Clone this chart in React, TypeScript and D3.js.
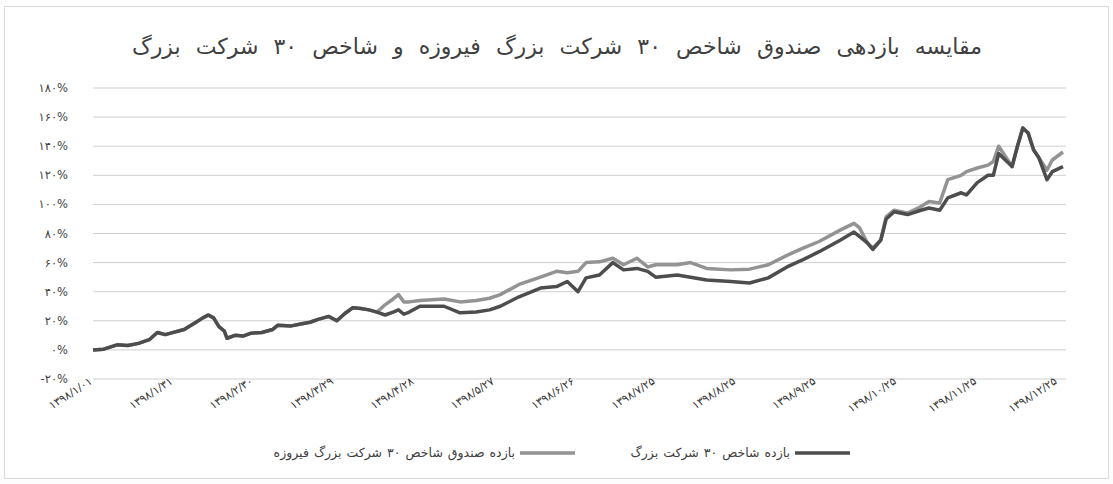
import React, { useLayoutEffect, useRef, useState } from 'react';
import * as d3 from 'd3';

const titleText = 'مقایسه بازدهی صندوق شاخص ۳۰ شرکت بزرگ فیروزه و شاخص ۳۰ شرکت بزرگ';
const fundName = 'بازده صندوق شاخص ۳۰ شرکت بزرگ فیروزه';
const indexName = 'بازده شاخص ۳۰ شرکت بزرگ';

// day offset from 1398/01/01
const dayOffsets = [0, 4, 9, 13, 17, 21, 24, 27, 29, 34, 38, 41, 43, 45, 47, 49, 50, 53, 56, 59, 63, 67, 69, 74, 78, 81, 84, 88, 91, 94, 97, 100, 103, 106, 109, 112, 114, 116, 118, 122, 131, 137, 143, 148, 152, 159, 167, 173, 177, 181, 184, 189, 194, 198, 203, 207, 210, 218, 223, 229, 238, 245, 252, 259, 265, 271, 279, 284, 286, 289, 291, 294, 296, 299, 304, 309, 312, 316, 319, 324, 326, 330, 334, 336, 338, 343, 345, 347, 349, 351, 353, 356, 358, 362];
const fundReturns = [0, 0.5, 3.5, 3, 4.5, 7, 12, 10.5, 11.5, 14, 18.5, 22, 24, 22, 16, 13, 8, 10, 9.5, 11.5, 12, 14, 17, 16.5, 18, 19, 21, 23, 20, 25, 29, 28.5, 27.5, 26, 31, 35, 38, 33, 33, 34, 35, 33, 34, 35.5, 38, 45, 50, 54, 53, 54, 60, 60.5, 63, 58.5, 63, 57, 58.5, 58.5, 60, 56, 55, 55.5, 58.5, 65, 70, 74.5, 82.5, 87, 84, 73.5, 70, 75.5, 91.5, 96, 94, 98.5, 102, 101, 117, 120, 122.5, 125, 127, 129.5, 140, 126, 140, 152.5, 149, 137.5, 132, 123.5, 130.5, 136];
const indexReturns = [0, 0.5, 3.5, 3, 4.5, 7, 12, 10.5, 11.5, 14, 18.5, 22, 24, 22, 16, 13, 8, 10, 9.5, 11.5, 12, 14, 17, 16.5, 18, 19, 21, 23, 20, 25, 29, 28.5, 27.5, 26, 24, 26, 27.5, 24.5, 26, 30, 30, 25.5, 26, 27.5, 30, 36.5, 42.5, 43.5, 47, 40, 49.5, 51.5, 60, 55, 56, 54, 50, 51.5, 50, 48, 47, 46, 49.5, 57, 62, 67.5, 75.5, 81, 78, 73.5, 69, 75.5, 90, 95, 93, 96, 97.5, 96, 104.5, 108, 106.5, 115, 120, 120, 135, 126, 140, 152.5, 149, 137.5, 132, 117, 122.5, 126];

const xTickDays = [0, 30, 60, 90, 120, 150, 180, 210, 240, 270, 300, 330, 360];
const xTickLabels = ['۱۳۹۸/۱/۰۱', '۱۳۹۸/۱/۳۱', '۱۳۹۸/۲/۳۰', '۱۳۹۸/۳/۲۹', '۱۳۹۸/۴/۲۸', '۱۳۹۸/۵/۲۷', '۱۳۹۸/۶/۲۶', '۱۳۹۸/۷/۲۵', '۱۳۹۸/۸/۲۵', '۱۳۹۸/۹/۲۵', '۱۳۹۸/۱۰/۲۵', '۱۳۹۸/۱۱/۲۵', '۱۳۹۸/۱۲/۲۵'];
const yTickValues = [-20, 0, 20, 40, 60, 80, 100, 120, 140, 160, 180];
const yTickLabels = ['-۲۰%', '۰%', '۲۰%', '۴۰%', '۶۰%', '۸۰%', '۱۰۰%', '۱۲۰%', '۱۴۰%', '۱۶۰%', '۱۸۰%'];

const W = 1113;
const H = 484;
const FONT = '"DejaVu Sans", sans-serif';

type WordRowProps = {
  text: string;
  x: number;
  y: number;
  fontSize: number;
  fill: string;
  gap?: number;
  width?: number;
  anchor?: 'start' | 'middle' | 'end';
};

// Right-to-left row of words: the first word sits at the right end.
function WordRow({ text, x, y, fontSize, fill, gap = 4, width, anchor = 'start' }: WordRowProps) {
  const words = text.split(' ');
  const refs = useRef<(SVGTextElement | null)[]>([]);
  const [widths, setWidths] = useState<number[] | null>(null);
  useLayoutEffect(() => {
    setWidths(refs.current.slice(0, words.length).map((el) => (el ? el.getComputedTextLength() : 0)));
  }, [text, fontSize]);
  const sum = widths ? widths.reduce((a, b) => a + b, 0) : 0;
  const g = width && widths ? (width - sum) / Math.max(1, words.length - 1) : gap;
  const total = sum + g * (words.length - 1);
  const left = anchor === 'middle' ? x - total / 2 : anchor === 'end' ? x - total : x;
  let cur = left + total;
  const pos: number[] = [];
  words.forEach((_, i) => {
    const w = widths ? widths[i] : 0;
    cur -= w;
    pos.push(cur);
    cur -= g;
  });
  return (
    <g visibility={widths ? 'visible' : 'hidden'}>
      {words.map((w, i) => (
        <text
          key={i}
          ref={(el) => {
            refs.current[i] = el;
          }}
          x={pos[i]}
          y={y}
          fontSize={fontSize}
          fill={fill}
        >
          {w}
        </text>
      ))}
    </g>
  );
}

export default function App() {
  const x = d3.scaleLinear().domain([0, 362]).range([93, 1063]);
  const y = d3.scaleLinear().domain([-20, 180]).range([379, 88]);

  const fundData = dayOffsets.map((d, i) => [d, fundReturns[i]] as [number, number]);
  const indexData = dayOffsets.map((d, i) => [d, indexReturns[i]] as [number, number]);
  const line = d3
    .line<[number, number]>()
    .x((d) => x(d[0]))
    .y((d) => y(d[1]));

  const fundColor = '#939393';
  const indexColor = '#4d4d4d';

  return (
    <svg
      width={W}
      height={H}
      style={{ position: 'absolute', left: 0, top: 0, background: '#fff' }}
      fontFamily={FONT}
    >
      <rect x={0} y={0} width={W} height={H} fill="#fdfdfd" />
      <rect x={4.5} y={6.5} width={1104} height={472} fill="#fff" stroke="#d9d9d9" />

      <WordRow text={titleText} x={557} y={54} fontSize={22} fill="#404040" width={850} anchor="middle" />

      {yTickValues.map((v, i) => (
        <g key={v}>
          <line x1={93} x2={1066} y1={y(v)} y2={y(v)} stroke="#cfcfcf" strokeWidth={1} />
          <text x={68} y={y(v) + 4} textAnchor="end" fontSize={11.5} fill="#3f3f3f">
            {yTickLabels[i]}
          </text>
        </g>
      ))}

      {xTickDays.map((d, i) => (
        <text
          key={d}
          transform={`translate(${x(d)},${383}) rotate(-33)`}
          textAnchor="end"
          fontSize={11}
          fill="#363636"
        >
          {xTickLabels[i]}
        </text>
      ))}

      <path d={line(fundData) || ''} fill="none" stroke={fundColor} strokeWidth={3.5} strokeLinejoin="round" />
      <path d={line(indexData) || ''} fill="none" stroke={indexColor} strokeWidth={3.5} strokeLinejoin="round" />

      <g>
        <WordRow text={fundName} x={515} y={457} fontSize={12.5} fill="#404040" anchor="end" gap={5} />
        <line x1={520} x2={575} y1={453} y2={453} stroke={fundColor} strokeWidth={3.5} />
        <WordRow text={indexName} x={790} y={457} fontSize={12.5} fill="#404040" anchor="end" gap={5} />
        <line x1={795} x2={850} y1={453} y2={453} stroke={indexColor} strokeWidth={3.5} />
      </g>
    </svg>
  );
}
